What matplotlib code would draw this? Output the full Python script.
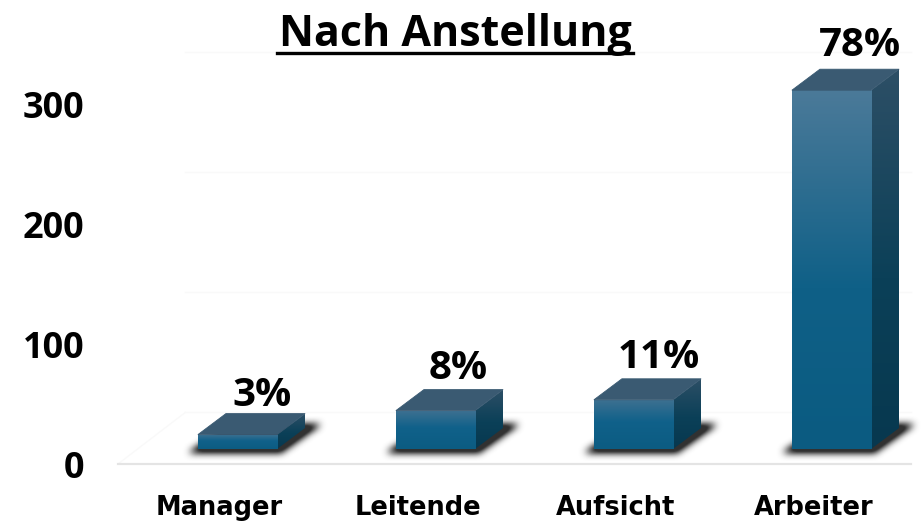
import matplotlib
matplotlib.use('Agg')
import matplotlib.pyplot as plt
from matplotlib.colors import LinearSegmentedColormap
from matplotlib.lines import Line2D
from matplotlib.patches import Polygon
from matplotlib.path import Path
import numpy as np

categories = ["Manager", "Leitende", "Aufsicht", "Arbeiter"]
values = [12, 32, 41, 299]
percent_labels = ["3%", "8%", "11%", "78%"]
y_ticks = [0, 100, 200, 300]
title = "Nach Anstellung"

W, H = 924, 521
bar_base = 12.5  # bars stand a little above the front edge of the floor
bar_width = 0.4
# 3d depth in data units
dx = 28 / 198.0
dy = 21 / 1.2
label_pad = [13, 15, 15, 17]
label_shift = [0.125, 0.115, 0.125, 0.145]

front_cmap = LinearSegmentedColormap.from_list("front", [(0, "#4b7a99"), (0.55, "#0f6087"), (1, "#0b5b81")])
side_cmap = LinearSegmentedColormap.from_list("side", [(0, "#2d4f66"), (0.55, "#0b4058"), (1, "#07384f")])
short_front = LinearSegmentedColormap.from_list("sfront", [(0, "#3f7191"), (0.45, "#10618a"), (1, "#0c5c82")])

def blur(a, n):
    # box blur three times, close enough to a gaussian
    k = np.ones(n) / n
    for _ in range(3):
        a = np.apply_along_axis(lambda m: np.convolve(m, k, mode="same"), 0, a)
        a = np.apply_along_axis(lambda m: np.convolve(m, k, mode="same"), 1, a)
    return a

def shadow(ax, x0, x1, y0):
    ext = (x0 - 0.2, x1 + dx + 0.35, y0 - 18, y0 + dy + 18)
    nx = int((ext[1] - ext[0]) * 198)
    ny = int((ext[3] - ext[2]) * 1.2)
    xs, ys = np.meshgrid(np.linspace(ext[0], ext[1], nx), np.linspace(ext[3], ext[2], ny))
    quad = Path([(x0 - 0.05, y0 - 3), (x1 + 0.02, y0 - 3), (x1 + dx + 0.08, y0 + dy + 3),
                 (x1 + dx, y0 + dy + 3), (x0 + dx, y0 + dy)])
    mask = quad.contains_points(np.c_[xs.ravel(), ys.ravel()]).reshape(ny, nx).astype(float)
    rgba = np.zeros((ny, nx, 4))
    rgba[..., :3] = 0.15
    rgba[..., 3] = np.clip(blur(mask, 7) * 1.5, 0, 0.95)
    ax.imshow(rgba, aspect="auto", extent=ext, zorder=2, interpolation="bilinear", clip_on=False)

fig = plt.figure(figsize=(W / 100.0, H / 100.0), dpi=100)
ax = fig.add_axes([118.0 / W, (H - 464.0) / H, (911.0 - 118.0) / W, (464.0 - 47.0) / H])
xlim = ((118 - 237.5) / 198.0, (911 - 237.5) / 198.0)
ylim = (0, 417 / 1.2)

grad = np.linspace(0, 1, 256).reshape(-1, 1)

# faint back wall
for t in y_ticks:
    ax.plot([xlim[0] + 0.34, xlim[1]], [t + 43, t + 43], color="#f9f9f9", lw=1, zorder=1, clip_on=False)
ax.plot([xlim[0], xlim[0] + 0.34], [0, 43], color="#f9f9f9", lw=1, zorder=1)

bars = ax.bar(range(len(values)), values, width=bar_width, bottom=bar_base, color="none", zorder=5)

for i, val in enumerate(values):
    x0 = i - bar_width / 2
    x1 = i + bar_width / 2
    y0 = bar_base
    y1 = bar_base + val

    shadow(ax, x0, x1, y0)

    # right side
    side = Polygon([(x1, y0), (x1 + dx, y0 + dy), (x1 + dx, y1 + dy), (x1, y1)], closed=True,
                   facecolor="none", edgecolor="none", zorder=3)
    ax.add_patch(side)
    im = ax.imshow(grad, cmap=side_cmap, aspect="auto", extent=(x1, x1 + dx, y0, y1 + dy), zorder=3)
    im.set_clip_path(side)

    # front with gradient
    cmap = front_cmap if val > 100 else short_front
    im = ax.imshow(grad, cmap=cmap, aspect="auto", extent=(x0, x1, y0, y1), zorder=4)
    im.set_clip_path(bars[i])

    # top
    ax.add_patch(Polygon([(x0, y1), (x1, y1), (x1 + dx, y1 + dy), (x0 + dx, y1 + dy)], closed=True,
                         facecolor="#3a5a72", edgecolor="#3a5a72", lw=0.6, zorder=4.5))

    ax.annotate(percent_labels[i], (i + label_shift[i], y1 + dy), xytext=(0, label_pad[i]), textcoords="offset points",
                ha="center", va="center", fontsize=29, fontweight="bold", family="Open Sans",
                color="black", annotation_clip=False, zorder=6)

ax.set_xlim(xlim)
ax.set_ylim(ylim)
ax.patch.set_visible(False)
for s in ["top", "left", "right"]:
    ax.spines[s].set_visible(False)
ax.spines["bottom"].set_color("#e4e4e4")
ax.spines["bottom"].set_linewidth(1.6)

ax.set_yticks(y_ticks)
ax.set_xticks(np.arange(len(categories)) - 0.09)
ax.set_xticklabels(categories, fontsize=18.5, fontweight="bold", family="DejaVu Sans")
ax.tick_params(axis="x", length=0, pad=22)
ax.tick_params(axis="y", length=0, pad=24)
for lab in ax.get_yticklabels():
    lab.set_fontsize(26)
    lab.set_fontweight("bold")
    lab.set_family("Open Sans")

fig.text(455.0 / W, 1 - 34.0 / H, title, ha="center", va="center", fontsize=31, fontweight="bold",
         family="Open Sans", color="black")
fig.add_artist(Line2D([277.0 / W, 633.0 / W], [1 - 53.0 / H, 1 - 53.0 / H], color="black", lw=2.4))

fig.savefig("out.png", dpi=100)
